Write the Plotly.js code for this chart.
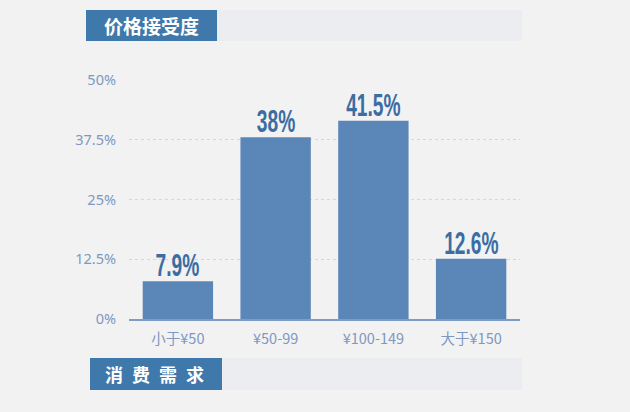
<!DOCTYPE html>
<html>
<head>
<meta charset="utf-8">
<script src="https://cdn.plot.ly/plotly-3.0.1.min.js"></script>
<style>
  body { margin: 0; background: #f2f2f2; }
  #chart { width: 630px; height: 412px; }
</style>
</head>
<body>
<div id="chart"></div>
<script>
// price ranges and share of respondents (%)
const categories = ['小于¥50', '¥50-99', '¥100-149', '大于¥150'];
const shares = [7.9, 38, 41.5, 12.6];
const tickVals = [0, 12.5, 25, 37.5, 50];
const tickText = ['0%', '12.5%', '25%', '37.5%', '50%'];
const topHeader = '价格接受度';
const bottomHeader = '消\u2002费\u2002需\u2002求';

// plot box in pixels, used to place the header strips in paper units
const L = 129, R = 520, T = 80, B = 319;
function px(x) { return (x - L) / (R - L); }
function py(y) { return (B - y) / (B - T); }

function headerStrip(x0, x1, x2, y0, y1) {
  return [
    { type: 'rect', xref: 'paper', yref: 'paper', x0: px(x1), x1: px(x2), y0: py(y1), y1: py(y0),
      fillcolor: '#ebedf1', line: {width: 0}, layer: 'below' },
    { type: 'rect', xref: 'paper', yref: 'paper', x0: px(x0), x1: px(x1), y0: py(y1), y1: py(y0),
      fillcolor: '#3f78ab', line: {width: 0}, layer: 'below' }
  ];
}

const bars = {
  x: categories,
  y: shares,
  type: 'bar',
  marker: {color: '#5b87b8'},
  hoverinfo: 'none'
};

// value labels sit on top of each bar
let valueLabels = categories.map((c, i) => ({
  x: c, y: shares[i], xref: 'x', yref: 'y',
  text: shares[i] + '%', showarrow: false,
  xanchor: 'center', yanchor: 'bottom', yshift: -4,
  font: {family: 'Liberation Sans, Arial, sans-serif', size: 32, color: '#3b6da3', weight: 'bold'}
}));

const layout = {
  width: 630,
  height: 412,
  margin: {l: L, r: 630 - R, t: T, b: 412 - B},
  paper_bgcolor: '#f2f2f2',
  plot_bgcolor: '#f2f2f2',
  bargap: 0.28,
  showlegend: false,
  font: {family: 'Noto Sans CJK SC, sans-serif', color: '#7d98c2', size: 14},
  xaxis: {
    showgrid: false,
    showline: true,
    linecolor: '#7d9cc6',
    linewidth: 1.5,
    ticks: '',
    ticklabelstandoff: 6,
    tickfont: {size: 14.5, color: '#7d98c2'}
  },
  yaxis: {
    range: [0, 50],
    tickvals: tickVals,
    ticktext: tickText,
    showgrid: true,
    gridcolor: '#d8d8d8',
    griddash: 'dot',
    zeroline: false,
    ticks: '',
    ticklabelstandoff: 12,
    tickfont: {family: 'Noto Sans, sans-serif', size: 14.5, color: '#7d98c2'}
  },
  shapes: headerStrip(86, 217, 522, 10, 41).concat(headerStrip(90, 222, 522, 358, 390)),
  annotations: [
    { xref: 'paper', yref: 'paper', x: px(151.5), y: py(25.5), text: topHeader, showarrow: false,
      xanchor: 'center', yanchor: 'middle',
      font: {family: 'Noto Sans CJK SC, sans-serif', size: 19, color: '#ffffff', weight: 'bold'} },
    { xref: 'paper', yref: 'paper', x: px(154), y: py(374), text: bottomHeader, showarrow: false,
      xanchor: 'center', yanchor: 'middle',
      font: {family: 'Noto Sans CJK SC, sans-serif', size: 18, color: '#ffffff', weight: 'bold'} }
  ].concat(valueLabels)
};

Plotly.newPlot('chart', [bars], layout, {displayModeBar: false, staticPlot: true}).then(gd => {
  // squeeze the value labels sideways to get a condensed face
  gd.querySelectorAll('.annotation-text').forEach(t => {
    if (!/%$/.test(t.textContent)) return;
    const bb = t.getBBox();
    const cx = bb.x + bb.width / 2;
    const old = t.getAttribute('transform') || '';
    t.setAttribute('transform', old + ' translate(' + cx + ',0) scale(0.6,1) translate(' + (-cx) + ',0)');
  });
});
</script>
</body>
</html>
